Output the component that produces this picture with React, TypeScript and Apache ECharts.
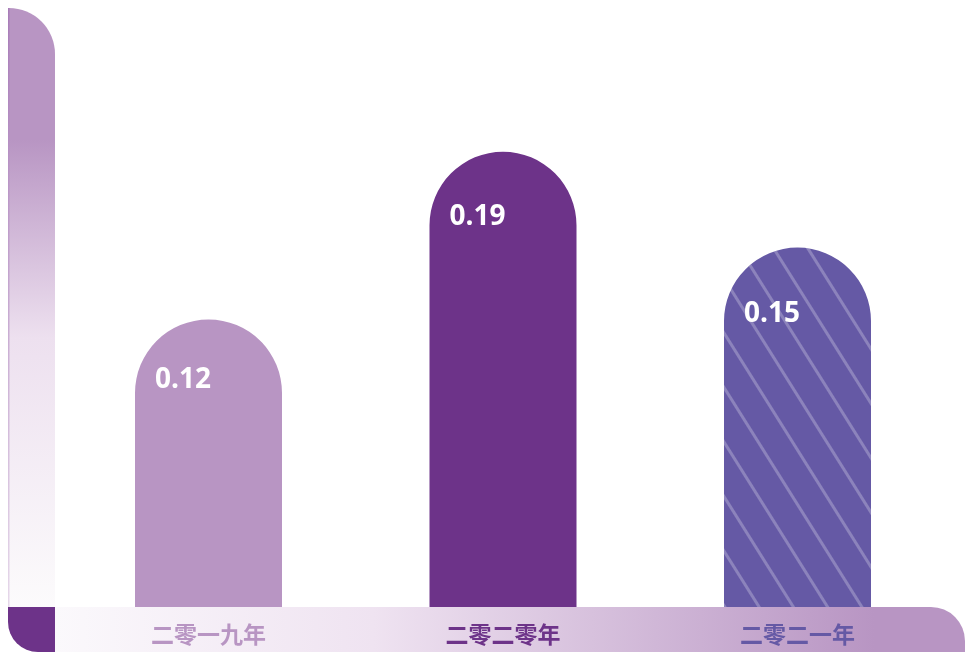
import React, { useEffect, useRef } from "react";
import * as echarts from "echarts";

const categories = ["二零一九年", "二零二零年", "二零二一年"];
const values = [0.12, 0.19, 0.15];
const yMax = 0.25;

const BAR_COLORS = ["#b895c3", "#6d3389", "#6559a5"];
const LABEL_COLORS = ["#b895c3", "#6d3389", "#6559a5"];
const LABEL_DY = [58, 62, 63];

export default function App() {
  const ref = useRef<HTMLDivElement>(null);
  useEffect(() => {
    if (!ref.current) return;
    const chart = echarts.init(ref.current, undefined, { renderer: "svg" });
    const W = 957;
    const H = 644;
    const richStyle = (c: string) => ({
      color: c,
      fontSize: 23,
      fontWeight: "bold",
      fontFamily: "Noto Sans CJK SC",
    });
    const option: any = {
      animation: false,
      grid: { left: 53.25, right: 20.25, top: 0, bottom: 45 },
      graphic: [
        {
          type: "rect",
          z: -10,
          shape: { x: 1, y: 0, width: 46, height: 599, r: [0, 47, 0, 0] },
          style: {
            fill: new echarts.graphic.LinearGradient(0, 0, 0, 1, [
              { offset: 0, color: "#b895c3" },
              { offset: 0.22, color: "#b895c3" },
              { offset: 0.55, color: "#ede0ef" },
              { offset: 1, color: "#fcfbfc" },
            ]),
          },
        },
        {
          type: "rect",
          z: -9,
          shape: { x: 0, y: 0, width: 1.5, height: 599 },
          style: {
            fill: new echarts.graphic.LinearGradient(0, 0, 0, 1, [
              { offset: 0, color: "#a87cb8" },
              { offset: 1, color: "#e6d8ea" },
            ]),
          },
        },
        {
          type: "rect",
          z: -10,
          shape: { x: 0, y: 599, width: 47, height: H - 599, r: [0, 0, 0, 30] },
          style: { fill: "#6d3389" },
        },
        {
          type: "rect",
          z: -10,
          shape: { x: 47, y: 599, width: W - 47, height: H - 599, r: [0, 34, 0, 0] },
          style: {
            fill: new echarts.graphic.LinearGradient(0, 0, 1, 0, [
              { offset: 0, color: "#fbf9fc" },
              { offset: 0.35, color: "#efe3f1" },
              { offset: 0.9, color: "#b895c3" },
              { offset: 1, color: "#b895c3" },
            ]),
          },
        },
      ],
      xAxis: {
        type: "category",
        data: categories,
        z: 10,
        axisLine: { show: false },
        axisTick: { show: false },
        axisLabel: {
          margin: 14,
          formatter: (v: string, i: number) => `{c${i}|${v}}`,
          rich: {
            c0: richStyle(LABEL_COLORS[0]),
            c1: richStyle(LABEL_COLORS[1]),
            c2: richStyle(LABEL_COLORS[2]),
          },
        },
      },
      yAxis: {
        type: "value",
        min: 0,
        max: yMax,
        show: false,
        splitLine: { show: false },
      },
      series: [
        {
          type: "bar",
          barWidth: 147,
          data: values.map((v, i) => ({
            value: v,
            label: { position: [20, LABEL_DY[i]] },
            itemStyle: {
              color: BAR_COLORS[i],
              borderRadius: [73.5, 73.5, 0, 0],
              decal:
                i === 2
                  ? {
                      symbol: "rect",
                      dashArrayX: [1, 0],
                      dashArrayY: [2.4, 25.6],
                      rotation: 1.01,
                      color: "rgba(255,255,255,0.25)",
                    }
                  : undefined,
            },
          })),
          label: {
            show: true,
            position: [20, 62],
            verticalAlign: "middle",
            align: "left",
            color: "#ffffff",
            fontSize: 28,
            fontWeight: "bold",
            fontFamily: "Open Sans",
            formatter: (p: any) => p.value.toFixed(2),
          },
        },
      ],
    };
    chart.setOption(option);
    return () => chart.dispose();
  }, []);
  return (
    <div
      ref={ref}
      style={{ position: "fixed", left: 8, top: 8, width: 957, height: 644 }}
    />
  );
}
